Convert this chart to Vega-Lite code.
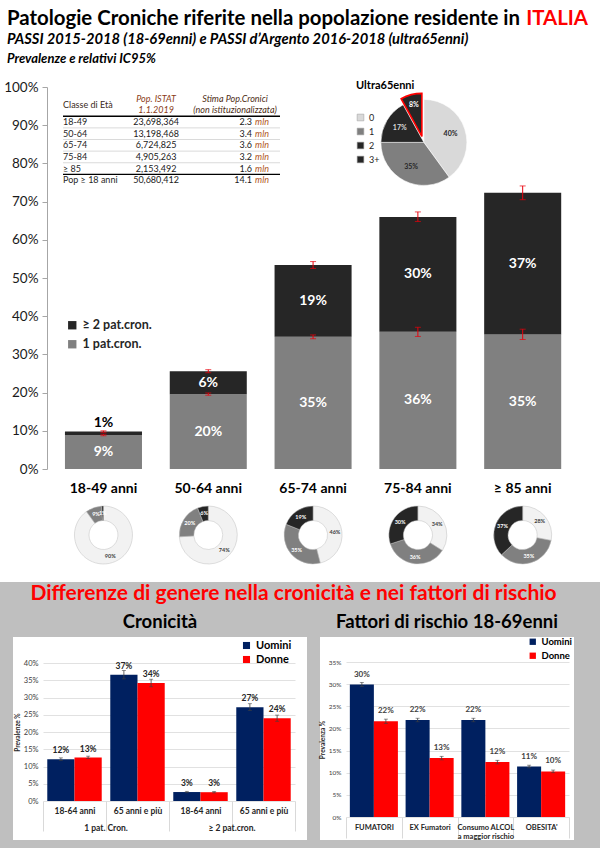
{
  "$schema": "https://vega.github.io/schema/vega-lite/v6.json",
  "background": "#bfbfbf",
  "padding": {"left": 0, "right": 0, "top": 0, "bottom": 8},
  "spacing": 0,
  "resolve": {"scale": {"color": "independent", "theta": "independent"}, "legend": {"color": "independent"}},
  "config": {
    "view": {"stroke": null},
    "font": "Lato",
    "axis": {"labelFont": "Lato", "titleFont": "Lato"},
    "legend": {"labelFont": "Lato", "titleFont": "Lato"},
    "title": {"font": "Lato"},
    "text": {"font": "Lato"}
  },
  "vconcat": [
    {
      "width": 600,
      "height": 72,
      "view": {"fill": "#ffffff"},
      "data": {"values": [
        {"parte": "titolo", "linea": 1, "testo": "Patologie Croniche riferite nella popolazione residente in"},
        {"parte": "luogo", "linea": 1, "testo": "ITALIA"},
        {"parte": "sottotitolo", "linea": 2, "testo": "PASSI 2015-2018 (18-69enni) e PASSI d’Argento 2016-2018 (ultra65enni)"},
        {"parte": "nota", "linea": 3, "testo": "Prevalenze e relativi IC95%"}
      ]},
      "encoding": {
        "y": {"field": "linea", "type": "quantitative", "scale": {"domain": [1, 3], "range": [25, 63]}, "axis": null},
        "x": {"datum": 0, "type": "quantitative", "scale": {"domain": [0, 1], "range": [7, 588]}, "axis": null},
        "text": {"field": "testo"}
      },
      "layer": [
        {"transform": [{"filter": "datum.parte === 'titolo'"}], "mark": {"type": "text", "align": "left", "baseline": "alphabetic", "fontSize": 20.4, "fontWeight": "bold", "color": "#000000"}},
        {"transform": [{"filter": "datum.parte === 'luogo'"}], "mark": {"type": "text", "align": "right", "baseline": "alphabetic", "fontSize": 20.4, "fontWeight": "bold", "color": "#ff0000"}, "encoding": {"x": {"datum": 1, "type": "quantitative", "axis": null}}},
        {"transform": [{"filter": "datum.parte === 'sottotitolo'"}], "mark": {"type": "text", "align": "left", "baseline": "alphabetic", "fontSize": 14.7, "fontWeight": "bold", "fontStyle": "italic", "color": "#000000"}},
        {"transform": [{"filter": "datum.parte === 'nota'"}], "mark": {"type": "text", "align": "left", "baseline": "alphabetic", "fontSize": 13, "fontWeight": "bold", "fontStyle": "italic", "color": "#000000"}}
      ]
    },
    {
      "width": 600,
      "height": 428,
      "view": {"fill": "#ffffff"},
      "resolve": {"scale": {"x": "independent", "y": "independent"}, "axis": {"x": "independent", "y": "independent"}},
      "layer": [
        {
          "resolve": {"scale": {"color": "independent"}, "legend": {"color": "independent"}},
          "layer": [
            {
              "data": {"values": [
                {"eta": "18-49 anni", "tipo": "1 pat.cron.", "v": 0.089, "lo": 0.087, "hi": 0.091},
                {"eta": "18-49 anni", "tipo": "≥ 2 pat.cron.", "v": 0.009, "lo": 0.096, "hi": 0.100},
                {"eta": "50-64 anni", "tipo": "1 pat.cron.", "v": 0.196, "lo": 0.193, "hi": 0.199},
                {"eta": "50-64 anni", "tipo": "≥ 2 pat.cron.", "v": 0.060, "lo": 0.252, "hi": 0.260},
                {"eta": "65-74 anni", "tipo": "1 pat.cron.", "v": 0.346, "lo": 0.341, "hi": 0.351},
                {"eta": "65-74 anni", "tipo": "≥ 2 pat.cron.", "v": 0.188, "lo": 0.525, "hi": 0.543},
                {"eta": "75-84 anni", "tipo": "1 pat.cron.", "v": 0.359, "lo": 0.347, "hi": 0.371},
                {"eta": "75-84 anni", "tipo": "≥ 2 pat.cron.", "v": 0.301, "lo": 0.648, "hi": 0.673},
                {"eta": "≥ 85 anni", "tipo": "1 pat.cron.", "v": 0.352, "lo": 0.339, "hi": 0.366},
                {"eta": "≥ 85 anni", "tipo": "≥ 2 pat.cron.", "v": 0.371, "lo": 0.705, "hi": 0.741}
              ]},
              "encoding": {
                "x": {"field": "eta", "type": "nominal", "sort": null, "title": null,
                  "scale": {"domain": ["18-49 anni", "50-64 anni", "65-74 anni", "75-84 anni", "≥ 85 anni"], "paddingInner": 0.265, "paddingOuter": 0.495, "align": 0.626},
                  "axis": {"orient": "bottom", "offset": -31, "domain": false, "ticks": false, "labelAngle": 0, "labelPadding": 12, "labelFontSize": 14, "labelFontWeight": "bold", "labelColor": "#000000", "grid": false}},
                "y": {"field": "v", "type": "quantitative", "stack": "zero", "title": null,
                  "scale": {"domain": [0, 1], "range": [397, 15], "nice": false},
                  "axis": {"orient": "left", "offset": -47, "values": [0, 0.1, 0.2, 0.3, 0.4, 0.5, 0.6, 0.7, 0.8, 0.9, 1], "format": ".0%", "labelFontSize": 13.5, "labelColor": "#1a1a1a", "labelPadding": 4, "tickSize": 5, "tickColor": "#a6a6a6", "domainColor": "#a6a6a6", "grid": false}}
              },
              "layer": [
                {
                  "mark": {"type": "bar"},
                  "encoding": {
                    "color": {"field": "tipo", "type": "nominal",
                      "scale": {"domain": ["≥ 2 pat.cron.", "1 pat.cron."], "range": ["#262626", "#808080"]},
                      "legend": {"orient": "none", "legendX": 66, "legendY": 247, "title": null, "symbolType": "square", "symbolSize": 70, "labelFontSize": 12.5, "labelFontWeight": "bold", "labelColor": "#262626", "rowPadding": 6}},
                    "order": {"field": "tipo", "sort": "ascending"}
                  }
                },
                {
                  "mark": {"type": "errorbar", "ticks": {"size": 6, "color": "#e8000b"}, "rule": {"color": "#e8000b", "strokeWidth": 1}},
                  "encoding": {"y": {"field": "lo", "type": "quantitative", "title": null}, "y2": {"field": "hi"}}
                },
                {
                  "transform": [{"filter": "datum.eta !== '18-49 anni' || datum.tipo !== '≥ 2 pat.cron.'"}],
                  "mark": {"type": "text", "fontSize": 14, "fontWeight": "bold", "color": "#ffffff", "baseline": "middle"},
                  "encoding": {
                    "y": {"field": "v", "type": "quantitative", "stack": "zero", "bandPosition": 0.5, "title": null},
                    "detail": {"field": "tipo"},
                    "order": {"field": "tipo", "sort": "ascending"},
                    "text": {"field": "v", "type": "quantitative", "format": ".0%"}
                  }
                },
                {
                  "transform": [{"filter": "datum.eta === '18-49 anni'"}],
                  "mark": {"type": "text", "fontSize": 14, "fontWeight": "bold", "color": "#000000", "baseline": "bottom", "dy": -2},
                  "encoding": {
                    "y": {"field": "v", "type": "quantitative", "stack": "zero", "title": null},
                    "detail": {"field": "tipo"},
                    "order": {"field": "tipo", "sort": "ascending"},
                    "text": {"field": "v", "type": "quantitative", "format": ".0%"},
                    "opacity": {"condition": {"test": "datum.tipo === '1 pat.cron.'", "value": 0}, "value": 1}
                  }
                }
              ]
            },
            {
              "data": {"values": [
                {"k": "0", "v": 0.40},
                {"k": "1", "v": 0.35},
                {"k": "2", "v": 0.17},
                {"k": "3+", "v": 0.08}
              ]},
              "transform": [{"stack": "v", "groupby": [], "sort": [{"field": "k", "order": "ascending"}], "as": ["t0", "t1"]}],
              "encoding": {
                "x": {"datum": "75-84 anni", "type": "nominal"},
                "y": {"datum": 0.855, "type": "quantitative", "stack": null},
                "color": {"field": "k", "type": "nominal",
                  "scale": {"domain": ["0", "1", "2", "3+"], "range": ["#d9d9d9", "#7f7f7f", "#262626", "#262626"]},
                  "legend": {"orient": "none", "legendX": 356, "legendY": 8, "title": "Ultra65enni", "titleFontSize": 11, "titleFontWeight": "bold", "titleColor": "#000000", "titlePadding": 22, "labelFontSize": 9, "labelColor": "#262626", "symbolType": "square", "symbolSize": 45, "symbolStrokeWidth": 0.6, "symbolStrokeColor": "#a6a6a6", "rowPadding": 3}}
              },
              "layer": [
                {
                  "transform": [{"filter": "datum.k !== '3+'"}],
                  "mark": {"type": "arc", "radius": 43, "xOffset": 6, "stroke": "#ffffff", "strokeWidth": 0.6},
                  "encoding": {"theta": {"field": "t0", "type": "quantitative", "scale": {"domain": [0, 1]}}, "theta2": {"field": "t1"}}
                },
                {
                  "transform": [{"filter": "datum.k === '3+'"}],
                  "mark": {"type": "arc", "radius": 43, "xOffset": 4, "yOffset": -6, "stroke": "#ff0000", "strokeWidth": 1.6},
                  "encoding": {"theta": {"field": "t0", "type": "quantitative", "scale": {"domain": [0, 1]}}, "theta2": {"field": "t1"}}
                },
                {
                  "transform": [
                    {"fold": ["t0", "t1"], "as": ["estremo", "angolo"]},
                    {"aggregate": [{"op": "mean", "field": "angolo", "as": "mezzo"}], "groupby": ["k", "v"]},
                    {"filter": "datum.k !== '3+'"}
                  ],
                  "mark": {"type": "text", "radius": 28, "xOffset": 6, "fontSize": 7, "fontWeight": "bold"},
                  "encoding": {
                    "theta": {"field": "mezzo", "type": "quantitative", "scale": {"domain": [0, 1]}},
                    "text": {"field": "v", "type": "quantitative", "format": ".0%"},
                    "fill": {"condition": {"test": "datum.k === '2'", "value": "#d9d9d9"}, "value": "#262626"}
                  }
                },
                {
                  "transform": [
                    {"fold": ["t0", "t1"], "as": ["estremo", "angolo"]},
                    {"aggregate": [{"op": "mean", "field": "angolo", "as": "mezzo"}], "groupby": ["k", "v"]},
                    {"filter": "datum.k === '3+'"}
                  ],
                  "mark": {"type": "text", "radius": 32, "xOffset": 4, "yOffset": -6, "fontSize": 7, "fontWeight": "bold", "fill": "#ffffff"},
                  "encoding": {
                    "theta": {"field": "mezzo", "type": "quantitative", "scale": {"domain": [0, 1]}},
                    "text": {"field": "v", "type": "quantitative", "format": ".0%"}
                  }
                }
              ]
            }
          ]
        },
        {
          "data": {"values": [
            {"riga": "intestazione1", "classe": "", "pop": "Pop. ISTAT", "stima": "Stima Pop.Cronici"},
            {"riga": "intestazione2", "classe": "Classe di Età", "pop": "1.1.2019", "stima": "(non istituzionalizzata)"},
            {"riga": "18-49", "classe": "18-49", "pop": "23,698,364", "stima": "2.3"},
            {"riga": "50-64", "classe": "50-64", "pop": "13,198,468", "stima": "3.4"},
            {"riga": "65-74", "classe": "65-74", "pop": "6,724,825", "stima": "3.6"},
            {"riga": "75-84", "classe": "75-84", "pop": "4,905,263", "stima": "3.2"},
            {"riga": "≥ 85", "classe": "≥ 85", "pop": "2,153,492", "stima": "1.6"},
            {"riga": "Pop ≥ 18 anni", "classe": "Pop ≥ 18 anni", "pop": "50,680,412", "stima": "14.1"}
          ]},
          "encoding": {
            "y": {"field": "riga", "type": "nominal", "sort": null,
              "scale": {"domain": ["intestazione1", "intestazione2", "18-49", "50-64", "65-74", "75-84", "≥ 85", "Pop ≥ 18 anni"], "range": [21, 114], "paddingInner": 0, "paddingOuter": 0},
              "axis": null},
            "x": {"datum": 0, "type": "quantitative", "scale": {"domain": [0, 100], "range": [63, 280]}, "axis": null}
          },
          "layer": [
            {
              "transform": [{"filter": "indexof(['intestazione1','intestazione2'], datum.riga) >= 0"}],
              "mark": {"type": "text", "align": "center", "baseline": "middle", "fontSize": 9, "fontStyle": "italic", "color": "#8a3a16"},
              "encoding": {"x": {"datum": 42.9, "type": "quantitative", "axis": null}, "text": {"field": "pop"}}
            },
            {
              "transform": [{"filter": "indexof(['intestazione1','intestazione2'], datum.riga) >= 0"}],
              "mark": {"type": "text", "align": "center", "baseline": "middle", "fontSize": 9, "fontStyle": "italic", "color": "#4d2c14"},
              "encoding": {"x": {"datum": 79.3, "type": "quantitative", "axis": null}, "text": {"field": "stima"}}
            },
            {
              "transform": [{"filter": "datum.riga === 'intestazione2'"}],
              "mark": {"type": "text", "align": "left", "baseline": "middle", "fontSize": 9, "color": "#3a2a1a"},
              "encoding": {"y": {"field": "riga", "type": "nominal", "bandPosition": 0, "axis": null}, "text": {"field": "classe"}}
            },
            {
              "transform": [{"filter": "indexof(['intestazione1','intestazione2'], datum.riga) < 0"}],
              "mark": {"type": "text", "align": "left", "baseline": "middle", "fontSize": 9, "color": "#262626"},
              "encoding": {"text": {"field": "classe"}}
            },
            {
              "transform": [{"filter": "indexof(['intestazione1','intestazione2'], datum.riga) < 0"}],
              "mark": {"type": "text", "align": "center", "baseline": "middle", "fontSize": 9, "color": "#1a1a1a"},
              "encoding": {"x": {"datum": 42.9, "type": "quantitative", "axis": null}, "text": {"field": "pop"}}
            },
            {
              "transform": [{"filter": "indexof(['intestazione1','intestazione2'], datum.riga) < 0"}],
              "mark": {"type": "text", "align": "right", "baseline": "middle", "fontSize": 9, "color": "#1a1a1a"},
              "encoding": {"x": {"datum": 87.1, "type": "quantitative", "axis": null}, "text": {"field": "stima"}}
            },
            {
              "transform": [{"filter": "indexof(['intestazione1','intestazione2'], datum.riga) < 0"}],
              "mark": {"type": "text", "align": "left", "baseline": "middle", "fontSize": 9, "fontStyle": "italic", "color": "#b0561c"},
              "encoding": {"x": {"datum": 88.5, "type": "quantitative", "axis": null}, "text": {"value": "mln"}}
            },
            {
              "transform": [{"filter": "datum.riga === '18-49' || datum.riga === 'Pop ≥ 18 anni'"}],
              "mark": {"type": "rule", "color": "#000000", "strokeWidth": 1.3},
              "encoding": {"y": {"field": "riga", "type": "nominal", "bandPosition": 0, "axis": null}, "x2": {"datum": 100}}
            },
            {
              "transform": [{"filter": "indexof(['18-49','50-64','65-74','75-84'], datum.riga) >= 0"}],
              "mark": {"type": "rule", "color": "#d0d0d0", "strokeWidth": 0.8},
              "encoding": {"y": {"field": "riga", "type": "nominal", "bandPosition": 1, "axis": null}, "x2": {"datum": 100}}
            }
          ]
        }
      ]
    },
    {
      "width": 600,
      "height": 82,
      "view": {"fill": "#ffffff"},
      "data": {"values": [
        {"eta": "18-49 anni", "k": "0", "v": 0.90}, {"eta": "18-49 anni", "k": "1", "v": 0.09}, {"eta": "18-49 anni", "k": "2", "v": 0.01},
        {"eta": "50-64 anni", "k": "0", "v": 0.74}, {"eta": "50-64 anni", "k": "1", "v": 0.20}, {"eta": "50-64 anni", "k": "2", "v": 0.06},
        {"eta": "65-74 anni", "k": "0", "v": 0.46}, {"eta": "65-74 anni", "k": "1", "v": 0.35}, {"eta": "65-74 anni", "k": "2", "v": 0.19},
        {"eta": "75-84 anni", "k": "0", "v": 0.34}, {"eta": "75-84 anni", "k": "1", "v": 0.36}, {"eta": "75-84 anni", "k": "2", "v": 0.30},
        {"eta": "≥ 85 anni", "k": "0", "v": 0.28}, {"eta": "≥ 85 anni", "k": "1", "v": 0.35}, {"eta": "≥ 85 anni", "k": "2", "v": 0.37}
      ]},
      "transform": [{"stack": "v", "groupby": ["eta"], "sort": [{"field": "k", "order": "ascending"}], "as": ["t0", "t1"]}],
      "encoding": {
        "x": {"field": "eta", "type": "nominal", "sort": null,
          "scale": {"type": "band", "domain": ["18-49 anni", "50-64 anni", "65-74 anni", "75-84 anni", "≥ 85 anni"], "paddingInner": 0.265, "paddingOuter": 0.495, "align": 0.626},
          "axis": null}
      },
      "layer": [
        {
          "mark": {"type": "arc", "radius": 29, "innerRadius": 14.5, "stroke": "#bfbfbf", "strokeWidth": 0.5, "yOffset": -6},
          "encoding": {
            "theta": {"field": "t0", "type": "quantitative", "scale": {"domain": [0, 1]}},
            "theta2": {"field": "t1"},
            "color": {"field": "k", "type": "nominal", "scale": {"domain": ["0", "1", "2"], "range": ["#f2f2f2", "#808080", "#262626"]}, "legend": null}
          }
        },
        {
          "transform": [
            {"fold": ["t0", "t1"], "as": ["estremo", "angolo"]},
            {"aggregate": [{"op": "mean", "field": "angolo", "as": "mezzo"}], "groupby": ["eta", "k", "v"]}
          ],
          "mark": {"type": "text", "radius": 22, "yOffset": -6, "fontSize": 5.5, "fontWeight": "bold"},
          "encoding": {
            "theta": {"field": "mezzo", "type": "quantitative", "scale": {"domain": [0, 1]}},
            "text": {"field": "v", "type": "quantitative", "format": ".0%"},
            "fill": {"condition": {"test": "datum.k !== '0'", "value": "#ffffff"}, "value": "#404040"}
          }
        }
      ]
    },
    {
      "title": {"text": "Differenze di genere nella cronicità e nei fattori di rischio", "color": "#ff0000", "fontSize": 21, "fontWeight": "bold", "anchor": "middle", "offset": 9},
      "spacing": 12,
      "resolve": {"scale": {"color": "independent", "xOffset": "independent"}, "legend": {"color": "independent"}},
      "hconcat": [
        {"width": 1, "height": 1, "data": {"values": [{}]}, "mark": {"type": "text"}, "encoding": {"text": {"value": ""}}},
        {
          "width": 294,
          "height": 203,
          "view": {"fill": "#ffffff"},
          "title": {"text": "Cronicità", "fontSize": 18.5, "fontWeight": "bold", "color": "#000000", "offset": 6, "anchor": "middle"},
          "data": {"values": [
            {"categoria": "1 pat. Cron.|18-64 anni", "sesso": "Uomini", "v": 0.121, "lo": 0.117, "hi": 0.125},
            {"categoria": "1 pat. Cron.|18-64 anni", "sesso": "Donne", "v": 0.126, "lo": 0.123, "hi": 0.130},
            {"categoria": "1 pat. Cron.|65 anni e più", "sesso": "Uomini", "v": 0.366, "lo": 0.354, "hi": 0.378},
            {"categoria": "1 pat. Cron.|65 anni e più", "sesso": "Donne", "v": 0.342, "lo": 0.331, "hi": 0.353},
            {"categoria": "≥ 2 pat.cron.|18-64 anni", "sesso": "Uomini", "v": 0.026, "lo": 0.024, "hi": 0.028},
            {"categoria": "≥ 2 pat.cron.|18-64 anni", "sesso": "Donne", "v": 0.0255, "lo": 0.0235, "hi": 0.0275},
            {"categoria": "≥ 2 pat.cron.|65 anni e più", "sesso": "Uomini", "v": 0.272, "lo": 0.262, "hi": 0.282},
            {"categoria": "≥ 2 pat.cron.|65 anni e più", "sesso": "Donne", "v": 0.240, "lo": 0.231, "hi": 0.249}
          ]},
          "resolve": {"axis": {"x": "independent"}},
          "encoding": {
            "x": {"field": "categoria", "type": "nominal", "sort": null, "title": null,
              "scale": {"domain": ["1 pat. Cron.|18-64 anni", "1 pat. Cron.|65 anni e più", "≥ 2 pat.cron.|18-64 anni", "≥ 2 pat.cron.|65 anni e più"], "range": [30, 282], "paddingInner": 0, "paddingOuter": 0},
              "axis": null},
            "xOffset": {"field": "sesso", "type": "nominal", "sort": null, "scale": {"domain": ["Uomini", "Donne"], "paddingInner": 0, "paddingOuter": 0.157}},
            "y": {"field": "v", "type": "quantitative", "title": "Prevalenze %",
              "scale": {"domain": [0, 0.4], "range": [164, 26], "nice": false},
              "axis": {"orient": "left", "offset": -30, "values": [0, 0.05, 0.1, 0.15, 0.2, 0.25, 0.3, 0.35, 0.4], "format": ".0%", "labelFontSize": 7.5, "labelColor": "#404040", "labelPadding": 5, "ticks": false, "domain": false, "grid": true, "gridColor": "#d9d9d9", "gridWidth": 0.8, "titleFontSize": 6.5, "titleFontWeight": "bold", "titleColor": "#262626", "titlePadding": 3}}
          },
          "layer": [
            {
              "mark": {"type": "bar"},
              "encoding": {
                "x": {"field": "categoria", "type": "nominal", "sort": null, "title": null,
                  "axis": {"orient": "bottom", "offset": -39, "labelExpr": "split(datum.value, '|')[1]", "labelAngle": 0, "labelFontSize": 8.5, "labelFontWeight": "bold", "labelColor": "#262626", "labelPadding": -25, "domain": false, "ticks": true, "tickBand": "extent", "tickSize": 30, "tickColor": "#d9d9d9", "grid": false}},
                "color": {"field": "sesso", "type": "nominal", "sort": null,
                  "scale": {"domain": ["Uomini", "Donne"], "range": ["#002060", "#ff0000"]},
                  "legend": {"orient": "none", "legendX": 228, "legendY": 3, "title": null, "symbolType": "square", "symbolSize": 50, "labelFontSize": 11, "labelFontWeight": "bold", "labelColor": "#000000", "rowPadding": 2}}
              }
            },
            {
              "mark": {"type": "rule", "color": "#404040", "strokeWidth": 0.8},
              "encoding": {"y": {"field": "lo", "type": "quantitative"}, "y2": {"field": "hi"}}
            },
            {
              "mark": {"type": "tick", "orient": "horizontal", "size": 4, "thickness": 0.8, "color": "#404040"},
              "encoding": {"y": {"field": "lo", "type": "quantitative"}}
            },
            {
              "mark": {"type": "tick", "orient": "horizontal", "size": 4, "thickness": 0.8, "color": "#404040"},
              "encoding": {"y": {"field": "hi", "type": "quantitative"}}
            },
            {
              "mark": {"type": "text", "baseline": "bottom", "dy": -4, "fontSize": 8.5, "fontWeight": "bold", "color": "#262626"},
              "encoding": {
                "x": {"field": "categoria", "type": "nominal", "sort": null, "title": null,
                  "axis": {"orient": "bottom", "offset": -39, "values": ["1 pat. Cron.|18-64 anni", "≥ 2 pat.cron.|18-64 anni"], "labelExpr": "split(datum.value, '|')[0]", "labelOffset": 31.5, "labelAngle": 0, "labelFontSize": 8.5, "labelFontWeight": "bold", "labelColor": "#262626", "labelPadding": 22, "domain": false, "ticks": false, "grid": false}},
                "text": {"field": "v", "type": "quantitative", "format": ".0%"}
              }
            }
          ]
        },
        {
          "width": 254,
          "height": 203,
          "view": {"fill": "#ffffff"},
          "title": {"text": "Fattori di rischio 18-69enni", "fontSize": 18.5, "fontWeight": "bold", "color": "#000000", "offset": 6, "anchor": "middle"},
          "data": {"values": [
            {"fattore": "FUMATORI", "sesso": "Uomini", "v": 0.299, "lo": 0.295, "hi": 0.304},
            {"fattore": "FUMATORI", "sesso": "Donne", "v": 0.216, "lo": 0.211, "hi": 0.221},
            {"fattore": "EX Fumatori", "sesso": "Uomini", "v": 0.219, "lo": 0.215, "hi": 0.223},
            {"fattore": "EX Fumatori", "sesso": "Donne", "v": 0.133, "lo": 0.129, "hi": 0.137},
            {"fattore": "Consumo ALCOL a maggior rischio", "sesso": "Uomini", "v": 0.219, "lo": 0.215, "hi": 0.223},
            {"fattore": "Consumo ALCOL a maggior rischio", "sesso": "Donne", "v": 0.124, "lo": 0.120, "hi": 0.128},
            {"fattore": "OBESITA'", "sesso": "Uomini", "v": 0.114, "lo": 0.111, "hi": 0.117},
            {"fattore": "OBESITA'", "sesso": "Donne", "v": 0.103, "lo": 0.100, "hi": 0.106}
          ]},
          "encoding": {
            "x": {"field": "fattore", "type": "nominal", "sort": null, "title": null,
              "scale": {"domain": ["FUMATORI", "EX Fumatori", "Consumo ALCOL a maggior rischio", "OBESITA'"], "range": [26, 249], "paddingInner": 0, "paddingOuter": 0},
              "axis": {"orient": "bottom", "offset": -23, "labelExpr": "datum.value === 'Consumo ALCOL a maggior rischio' ? ['Consumo ALCOL', 'a maggior rischio'] : datum.value", "labelAngle": 0, "labelFontSize": 7.5, "labelFontWeight": "bold", "labelColor": "#262626", "labelPadding": -15, "labelLineHeight": 9, "domain": false, "ticks": true, "tickBand": "extent", "tickSize": 21, "tickColor": "#d9d9d9", "grid": false}},
            "xOffset": {"field": "sesso", "type": "nominal", "sort": null, "scale": {"domain": ["Uomini", "Donne"], "paddingInner": 0, "paddingOuter": 0.16}},
            "y": {"field": "v", "type": "quantitative", "title": "Prevalenza %",
              "scale": {"domain": [0, 0.35], "range": [180, 25], "nice": false},
              "axis": {"orient": "left", "offset": -26, "values": [0, 0.05, 0.1, 0.15, 0.2, 0.25, 0.3, 0.35], "format": ".0%", "labelFontSize": 6.5, "labelColor": "#404040", "labelPadding": 5, "ticks": false, "domain": false, "grid": true, "gridColor": "#d9d9d9", "gridWidth": 0.8, "titleFontSize": 6.5, "titleFontWeight": "bold", "titleColor": "#262626", "titlePadding": 3}}
          },
          "layer": [
            {
              "mark": {"type": "bar"},
              "encoding": {
                "color": {"field": "sesso", "type": "nominal", "sort": null,
                  "scale": {"domain": ["Uomini", "Donne"], "range": ["#002060", "#ff0000"]},
                  "legend": {"orient": "none", "legendX": 208, "legendY": 0, "title": null, "symbolType": "square", "symbolSize": 40, "labelFontSize": 9.5, "labelFontWeight": "bold", "labelColor": "#000000", "rowPadding": 3}}
              }
            },
            {
              "mark": {"type": "rule", "color": "#404040", "strokeWidth": 0.8},
              "encoding": {"y": {"field": "lo", "type": "quantitative"}, "y2": {"field": "hi"}}
            },
            {
              "mark": {"type": "tick", "orient": "horizontal", "size": 4, "thickness": 0.8, "color": "#404040"},
              "encoding": {"y": {"field": "lo", "type": "quantitative"}}
            },
            {
              "mark": {"type": "tick", "orient": "horizontal", "size": 4, "thickness": 0.8, "color": "#404040"},
              "encoding": {"y": {"field": "hi", "type": "quantitative"}}
            },
            {
              "mark": {"type": "text", "baseline": "bottom", "dy": -6, "fontSize": 8, "fontWeight": "bold", "color": "#404040"},
              "encoding": {"text": {"field": "v", "type": "quantitative", "format": ".0%"}}
            }
          ]
        },
        {"width": 1, "height": 1, "data": {"values": [{}]}, "mark": {"type": "text"}, "encoding": {"text": {"value": ""}}}
      ]
    }
  ]
}
